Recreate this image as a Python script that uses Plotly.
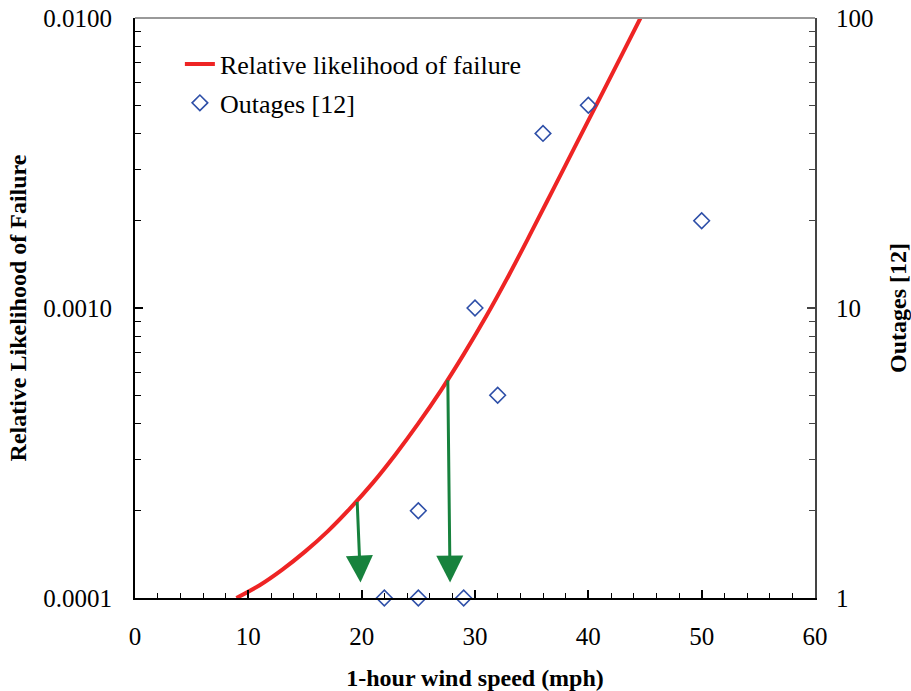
import math
import plotly.graph_objects as go

# Curve: relative likelihood of failure vs 1-hour wind speed
curve_wind = [8.95, 11, 13, 15, 17, 19, 21, 23, 25, 27, 29, 31, 33, 35, 37, 39, 41, 43, 44.6]
curve_likelihood = [1.0e-4, 1.107e-4, 1.253e-4, 1.445e-4, 1.698e-4, 2.042e-4, 2.50e-4,
                    3.133e-4, 4.0e-4, 5.2e-4, 6.918e-4, 9.376e-4, 1.30e-3, 1.837e-3,
                    2.612e-3, 3.715e-3, 5.284e-3, 7.516e-3, 1.0e-2]

# Outages [12]
outage_wind = [22, 25, 29, 25, 30, 32, 36, 40, 50]
outage_count = [1, 1, 1, 2, 10, 5, 40, 50, 20]

# Green arrows (tail on curve, tip near the bottom axis)
arrow_tail_wind = [19.6, 27.6]
arrow_tail_value = [2.17e-4, 5.7e-4]
arrow_tip_wind = [19.9, 27.8]
arrow_tip_value = [1.13e-4, 1.13e-4]

# Tick labels
x_ticks = [0, 10, 20, 30, 40, 50, 60]
y_tickvals = [1e-4, 1e-3, 1e-2]
y_ticktext = ["0.0001", "0.0010", "0.0100"]
y2_tickvals = [1, 10, 100]
y2_ticktext = ["1", "10", "100"]

FONT = "Liberation Serif"

fig = go.Figure()
fig.add_trace(go.Scatter(
    x=curve_wind, y=curve_likelihood, mode="lines",
    line=dict(color="#EE2424", width=4, shape="spline", smoothing=1),
    name="Relative likelihood of failure", legendgroup="a",
))
fig.add_trace(go.Scatter(
    x=outage_wind, y=outage_count, mode="markers", yaxis="y2",
    marker=dict(symbol="diamond-open", size=12, color="#2E4FA8",
                line=dict(width=1.6, color="#2E4FA8")),
    name="Outages [12]", legendgroup="b", cliponaxis=False,
))

for tw, tv, hw, hv in zip(arrow_tail_wind, arrow_tail_value, arrow_tip_wind, arrow_tip_value):
    fig.add_annotation(
        x=hw, y=math.log10(hv), ax=tw, ay=math.log10(tv),
        xref="x", yref="y", axref="x", ayref="y",
        showarrow=True, arrowhead=2, arrowsize=1.8, arrowwidth=3,
        arrowcolor="#17823D", text="", standoff=0, startstandoff=0,
    )

# top border
fig.add_shape(type="line", xref="paper", yref="paper", x0=0, x1=1, y0=1, y1=1,
              line=dict(color="#999999", width=2))

fig.update_layout(
    width=911, height=691,
    margin=dict(l=135, r=96, t=18, b=93, autoexpand=False),
    paper_bgcolor="white", plot_bgcolor="white",
    font=dict(family=FONT, size=25, color="black"),
    showlegend=True,
    legend=dict(x=0.066, y=0.961, xanchor="left", yanchor="top",
                bgcolor="rgba(0,0,0,0)", font=dict(family=FONT, size=26),
                traceorder="grouped", tracegroupgap=2),
    xaxis=dict(
        range=[0, 60], tickvals=x_ticks, ticks="inside", ticklen=8, tickwidth=1.5,
        tickcolor="black", showline=True, linecolor="black", linewidth=2,
        showgrid=False, zeroline=False, ticklabelstandoff=15, automargin=False,
        tickfont=dict(family=FONT, size=25),
        minor=dict(dtick=2, ticks="inside", ticklen=5, tickwidth=1, tickcolor="black", showgrid=False),
        title=dict(text="<b>1-hour wind speed (mph)</b>", font=dict(family=FONT, size=24), standoff=20),
    ),
    yaxis=dict(
        type="log", range=[-4, -2], tickvals=y_tickvals, ticktext=y_ticktext,
        ticks="inside", ticklen=8, tickwidth=1.5, tickcolor="black",
        showline=True, linecolor="black", linewidth=2, showgrid=False, zeroline=False,
        ticklabelstandoff=16, tickfont=dict(family=FONT, size=25), automargin=False,
        minor=dict(dtick="D1", ticks="inside", ticklen=6, tickwidth=1, tickcolor="black", showgrid=False),
        title=dict(text="<b>Relative Likelihood of Failure</b>", font=dict(family=FONT, size=24), standoff=10),
    ),
    yaxis2=dict(
        type="log", range=[0, 2], overlaying="y", side="right", anchor="x",
        tickvals=y2_tickvals, ticktext=y2_ticktext, automargin=False,
        ticks="inside", ticklen=8, tickwidth=1.5, tickcolor="#444444",
        showline=True, linecolor="#444444", linewidth=2, showgrid=False, zeroline=False,
        ticklabelstandoff=14, tickfont=dict(family=FONT, size=25),
        minor=dict(dtick="D1", ticks="inside", ticklen=6, tickwidth=1, tickcolor="#444444", showgrid=False),
        title=dict(text="<b>Outages [12]</b>", font=dict(family=FONT, size=24), standoff=17),
    ),
)

fig.write_html("out.html")
